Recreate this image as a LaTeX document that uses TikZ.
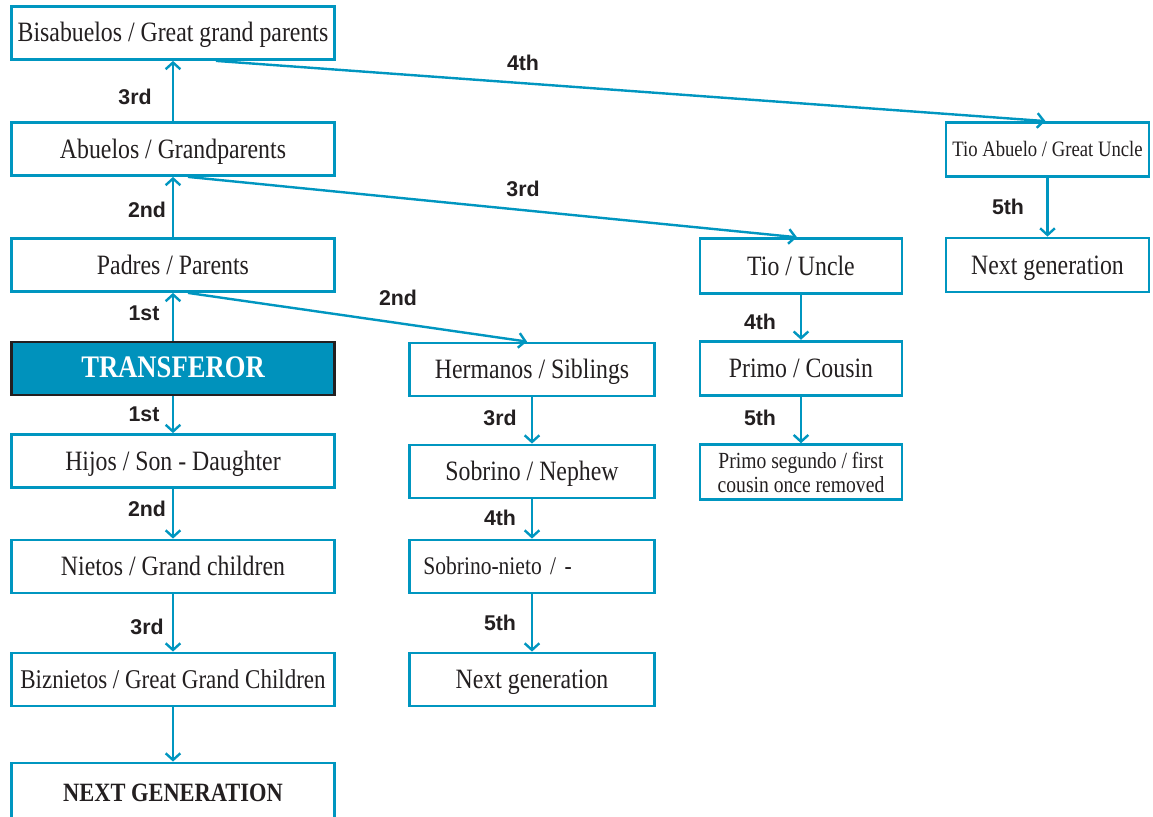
\documentclass[tikz,border=0pt]{standalone}
\usepackage{fontspec}
\setmainfont{Liberation Serif}[FakeStretch=0.85]
\newfontfamily\lblfont{Liberation Sans}
\usetikzlibrary{arrows.meta,calc}
\definecolor{teal1}{RGB}{0,150,192}
\definecolor{tfill}{RGB}{0,146,188}
\definecolor{ink}{RGB}{35,31,32}
\tikzset{
  box/.style={draw=teal1, line width=2.1pt, inner sep=2pt, align=center, text=ink,
              font=\fontsize{21}{24}\selectfont},
  tx/.style={text height=13.5pt, text depth=0pt},
  c1/.style={box, tx, minimum width=242.25pt, minimum height=39.75pt},
  c2/.style={box, tx, minimum width=184pt, minimum height=39.75pt},
  c3/.style={box, tx, minimum width=151.5pt, minimum height=41pt},
  c4/.style={box, tx, minimum width=152.25pt, minimum height=40.5pt},
  lbl/.style={font=\lblfont\bfseries\fontsize{16}{18}\selectfont, text=ink, inner sep=0pt},
  arr/.style={draw=teal1, line width=1.8pt, -{Straight Barb[length=5pt,width=11pt]}}
}
\begin{document}
\begin{tikzpicture}[x=0.75pt,y=-0.75pt]
\clip (0,0) rectangle (1153,817);
\fill[white] (0,0) rectangle (1153,817);
% column 1
\node[c1] (bis) at (173,33) {Bisabuelos / Great grand parents};
\node[c1] (abu) at (173,149) {Abuelos / Grandparents};
\node[c1] (pad) at (173,265) {Padres / Parents};
\node[c1, fill=tfill, draw=ink, text=white, text height=14pt, font=\bfseries\fontsize{23.5}{26}\selectfont] (tra) at (173,368.5) {TRANSFEROR};
\node[c1] (hij) at (173,461) {Hijos / Son - Daughter};
\node[c1] (nie) at (173,566.5) {Nietos / Grand children};
\node[c1, font=\fontsize{20.3}{24}\selectfont] (biz) at (173,679.5) {Biznietos / Great Grand Children};
\node[c1, minimum height=45pt, text height=12.5pt, font=\bfseries\fontsize{19.8}{22}\selectfont] (nxt) at (173,793) {NEXT GENERATION};
% column 2
\node[c2] (her) at (532,369.5) {Hermanos / Siblings};
\node[c2] (sob) at (532,471.5) {Sobrino / Nephew};
\node[c2, inner xsep=10.5pt, text width=163pt, align=left, text height=12.5pt, font=\fontsize{19}{22}\selectfont] (son) at (532,566.5) {Sobrino-nieto / -};
\node[c2] (nx2) at (532,679.5) {Next generation};
% column 3
\node[c3] (tio) at (801,266) {Tio / Uncle};
\node[c3] (pri) at (801,368.5) {Primo / Cousin};
\node[box, minimum width=151.5pt, minimum height=41pt, font=\fontsize{17.3}{18}\selectfont] (prs) at (801,472) {Primo segundo / first\\cousin once removed};
% column 4
\node[c4, text height=11pt, font=\fontsize{16.5}{18}\selectfont] (tab) at (1047.5,149.5) {Tio Abuelo / Great Uncle};
\node[c4] (nx4) at (1047.5,265) {Next generation};
% vertical arrows
\draw[arr] (abu.north) -- (bis.south);
\draw[arr] (pad.north) -- (abu.south);
\draw[arr] (tra.north) -- (pad.south);
\draw[arr] (tra.south) -- (hij.north);
\draw[arr] (hij.south) -- (nie.north);
\draw[arr] (nie.south) -- (biz.north);
\draw[arr] (biz.south) -- (nxt.north);
\draw[arr] (her.south) -- (sob.north);
\draw[arr] (sob.south) -- (son.north);
\draw[arr] (son.south) -- (nx2.north);
\draw[arr] (tio.south) -- (pri.north);
\draw[arr] (pri.south) -- (prs.north);
\draw[arr] (tab.south) -- (nx4.north);
% diagonal arrows
\draw[arr] ([xshift=32.25pt]bis.south) -- ([xshift=-1.5pt]tab.north);
\draw[arr] ([xshift=11.25pt]abu.south) -- ([xshift=-3pt]tio.north);
\draw[arr] ([xshift=11.25pt]pad.south) -- ([xshift=-3.75pt]her.north);
% labels
\node[lbl] (l1) at (135,97) {3rd};
\node[lbl] (l2) at (147,210) {2nd};
\node[lbl] (l3) at (144,313) {1st};
\node[lbl] (l4) at (144,414) {1st};
\node[lbl] (l5) at (147,509) {2nd};
\node[lbl] (l6) at (147,627) {3rd};
\node[lbl] (l7) at (523,63) {4th};
\node[lbl] (l8) at (523,189) {3rd};
\node[lbl] (l9) at (398,298) {2nd};
\node[lbl] (l10) at (500,418) {3rd};
\node[lbl] (l11) at (500,518) {4th};
\node[lbl] (l12) at (500,623) {5th};
\node[lbl] (l13) at (760,322) {4th};
\node[lbl] (l14) at (760,418) {5th};
\node[lbl] (l15) at (1008,207) {5th};
\end{tikzpicture}
\end{document}
